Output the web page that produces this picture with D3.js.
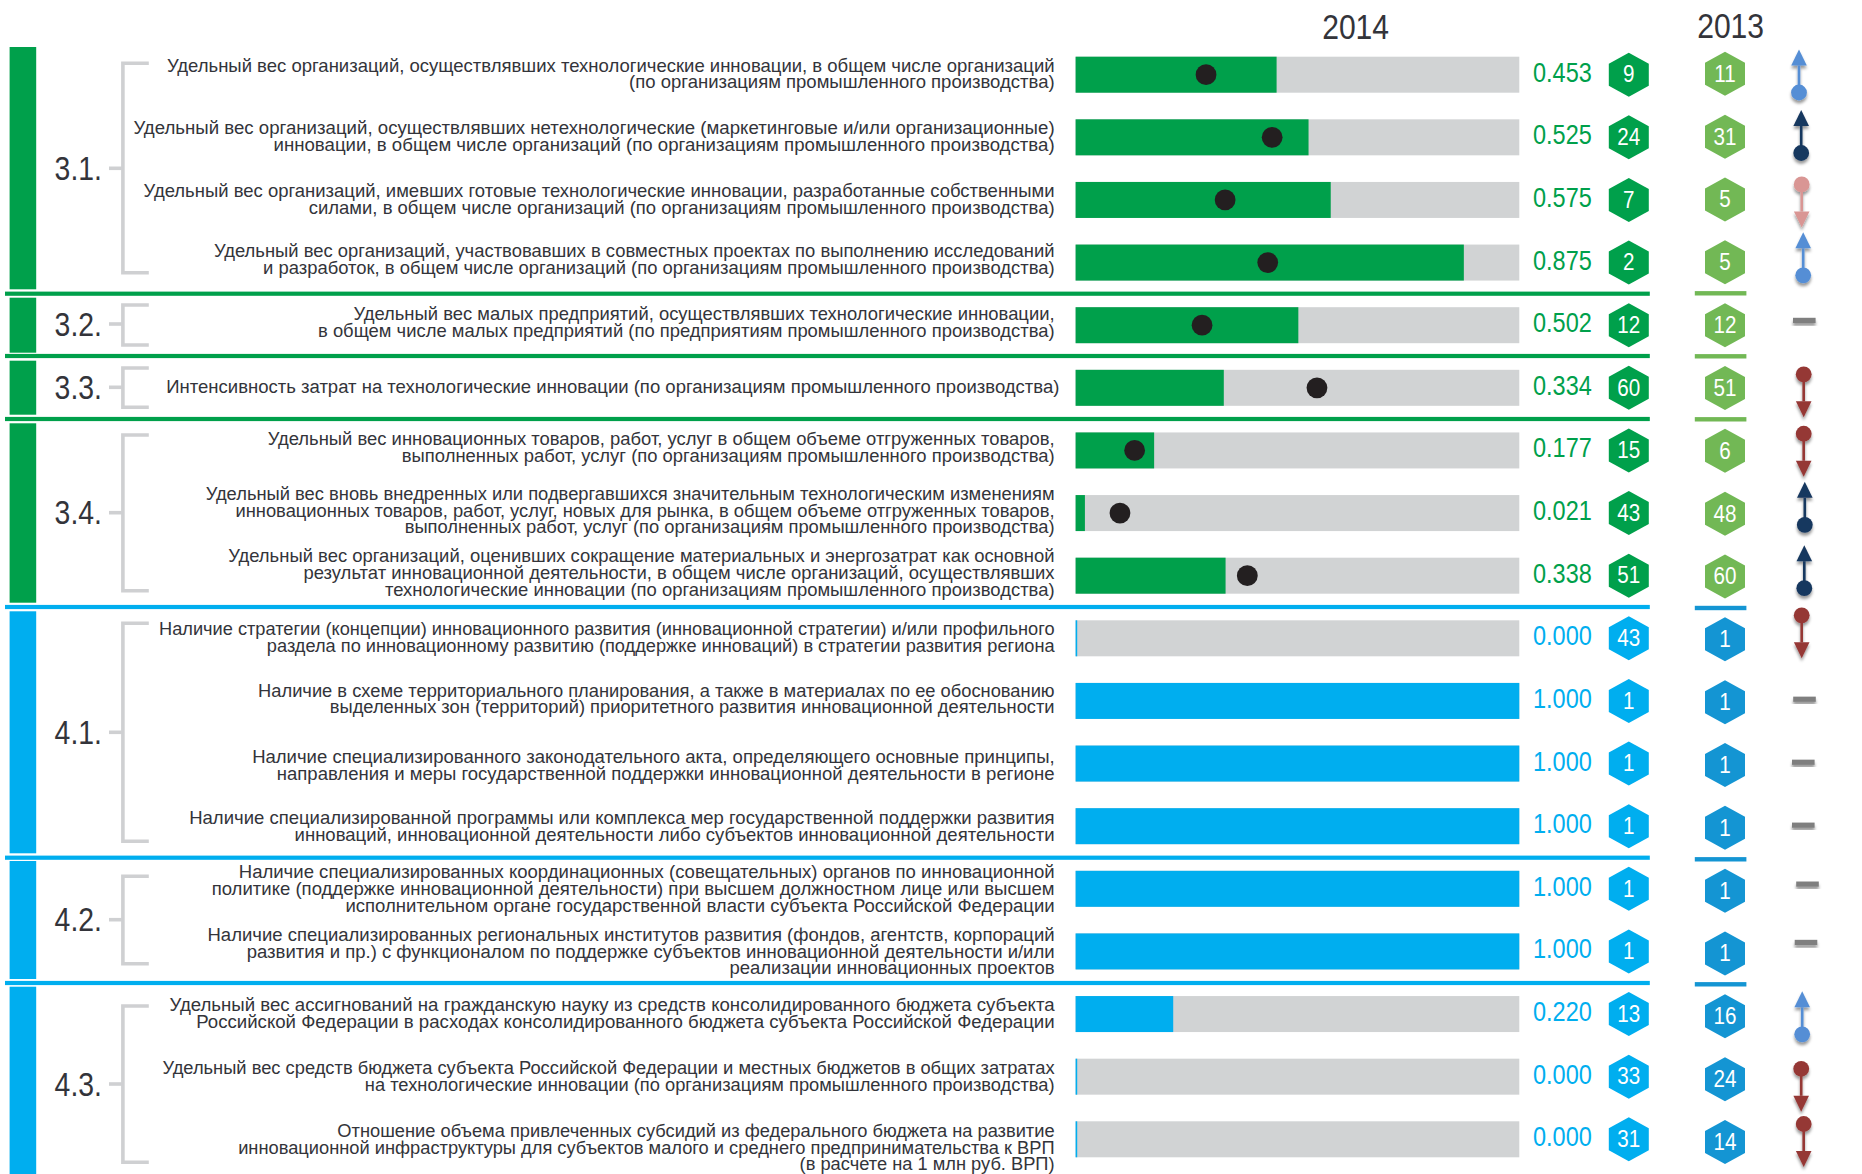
<!DOCTYPE html>
<html lang="ru"><head><meta charset="utf-8">
<script src="https://cdn.jsdelivr.net/npm/d3@7"></script>
<style>html,body{margin:0;padding:0;background:#fff}svg{display:block}</style>
</head><body><svg id="c" width="1862" height="1174"></svg>
<script>
// ---- data ----
const rowLabels = [
 ["Удельный вес организаций, осуществлявших технологические инновации, в общем числе организаций","(по организациям промышленного производства)"],
 ["Удельный вес организаций, осуществлявших нетехнологические (маркетинговые и/или организационные)","инновации, в общем числе организаций (по организациям промышленного производства)"],
 ["Удельный вес организаций, имевших готовые технологические инновации, разработанные собственными","силами, в общем числе организаций (по организациям промышленного производства)"],
 ["Удельный вес организаций, участвовавших в совместных проектах по выполнению исследований","и разработок, в общем числе организаций (по организациям промышленного производства)"],
 ["Удельный вес малых предприятий, осуществлявших технологические инновации,","в общем числе малых предприятий (по предприятиям промышленного производства)"],
 ["Интенсивность затрат на технологические инновации (по организациям промышленного производства)"],
 ["Удельный вес инновационных товаров, работ, услуг в общем объеме отгруженных товаров,","выполненных работ, услуг (по организациям промышленного производства)"],
 ["Удельный вес вновь внедренных или подвергавшихся значительным технологическим изменениям","инновационных товаров, работ, услуг, новых для рынка, в общем объеме отгруженных товаров,","выполненных работ, услуг (по организациям промышленного производства)"],
 ["Удельный вес организаций, оценивших сокращение материальных и энергозатрат как основной","результат инновационной деятельности, в общем числе организаций, осуществлявших","технологические инновации (по организациям промышленного производства)"],
 ["Наличие стратегии (концепции) инновационного развития (инновационной стратегии) и/или профильного","раздела по инновационному развитию (поддержке инноваций) в стратегии развития региона"],
 ["Наличие в схеме территориального планирования, а также в материалах по ее обоснованию","выделенных зон (территорий) приоритетного развития инновационной деятельности"],
 ["Наличие специализированного законодательного акта, определяющего основные принципы,","направления и меры государственной поддержки инновационной деятельности в регионе"],
 ["Наличие специализированной программы или комплекса мер государственной поддержки развития","инноваций, инновационной деятельности либо субъектов инновационной деятельности"],
 ["Наличие специализированных координационных (совещательных) органов по инновационной","политике (поддержке инновационной деятельности) при высшем должностном лице или высшем","исполнительном органе государственной власти субъекта Российской Федерации"],
 ["Наличие специализированных региональных институтов развития (фондов, агентств, корпораций","развития и пр.) с функционалом по поддержке субъектов инновационной деятельности и/или","реализации инновационных проектов"],
 ["Удельный вес ассигнований на гражданскую науку из средств консолидированного бюджета субъекта","Российской Федерации в расходах консолидированного бюджета субъекта Российской Федерации"],
 ["Удельный вес средств бюджета субъекта Российской Федерации и местных бюджетов в общих затратах","на технологические инновации (по организациям промышленного производства)"],
 ["Отношение объема привлеченных субсидий из федерального бюджета на развитие","инновационной инфраструктуры для субъектов малого и среднего предпринимательства к ВРП","(в расчете на 1 млн руб. ВРП)"]
];
const values2014 = [0.453,0.525,0.575,0.875,0.502,0.334,0.177,0.021,0.338,0.000,1.000,1.000,1.000,1.000,1.000,0.220,0.000,0.000];
const benchmark  = [0.294,0.443,0.337,0.433,0.285,0.544,0.133,0.100,0.387,null,null,null,null,null,null,null,null,null];
const rank2014   = [9,24,7,2,12,60,15,43,51,43,1,1,1,1,1,13,33,31];
const rank2013   = [11,31,5,5,12,51,6,48,60,1,1,1,1,1,1,16,24,14];
const trend      = ["upLight","upDark","downPink","upLight","flat","downRed","downRed","upDark","upDark","downRed","flat","flat","flat","flat","flat","upLight","downRed","downRed"];
const sectionNames = ["3.1.","3.2.","3.3.","3.4.","4.1.","4.2.","4.3."];
const sectionFirstRow = [0,4,5,6,9,13,15];
const sectionLastRow  = [3,4,5,8,12,14,17];
const years = ["2014","2013"];

// ---- layout (not data) ----
const W = 1862, H = 1174;
const FONT = "'Liberation Sans',sans-serif";
const GREEN="#00a04b", BLUE="#00aeef", LGREEN="#72b855", DBLUE="#1495d3", GREY="#d1d3d4", INK="#33343a", BR="#cfd0d2";
const sectionBar   = [[47,289.3],[297.7,352.7],[360.7,414.7],[423.3,602.7],[611.3,853.3],[861,979],[986.7,1174]];
const bracket      = [[63.3,272.7],[305,345],[368,407.3],[435,590.7],[623.3,841.3],[876.3,963.7],[1006,1162.3]];
const bracketTick  = [168.3,324,387.3,512.7,732.3,919.7,1084];
const sepMain      = [293.7,356,419,607,857.7,983];
const sep2013      = [293.3,356.3,419.3,608,859.3,984.3];
const labelDy  = [5.3,5.2,5.3,3.1,3.3,4.8,2.8,3.5,3.4,5,4.1,7.8,6.5,6.1,6.2,5.3,5.8,14.2];
const labelFit = [1,1.008,0.999,0.996,0.995,1.001,0.9955,0.992,0.997,0.984,0.99,1.0015,1,1.003,1.001,1.007,0.99,0.9885];
const trendDy  = [-3.7,-5.8,6,-8.7,-4.8,8,4.8,-9.7,-9,-1.5,-1.7,-1.3,-1,-4.7,-9,-1.2,13.6,6.2];
const trendX   = [1799,1801.2,1801.7,1803.2,1804.3,1803.7,1803.7,1804.8,1804.3,1801.7,1804.5,1803.3,1803.3,1807.5,1806,1802.2,1801.2,1803.7];
const trendColor = d3.scaleOrdinal(["upLight","upDark","downPink","downRed","flat"],["#558ed5","#17375e","#d99694","#953735","#7f7f7f"]);

const svg = d3.select("#c");
const defs = svg.append("defs");
const f = defs.append("filter").attr("id","sh").attr("x","-60%").attr("y","-30%").attr("width","220%").attr("height","170%");
f.append("feDropShadow").attr("dx",0).attr("dy",3).attr("stdDeviation",1.8).attr("flood-color","#000").attr("flood-opacity",.4);

const x  = d3.scaleLinear().domain([0,1]).range([1075.6,1519.3]);
const y  = d3.scaleLinear().domain([0,17]).range([74.7,1139.3]);
const y13= d3.scaleLinear().domain([0,17]).range([73.8,1142]);
const isGreen = i => i < 9;
const barH = 36;

// helper: horizontally condensed text
function put(g,txt,px,py,size,sx,anchor,fill){
  return g.append("text").text(txt).attr("transform",`translate(${px},${py}) scale(${sx},1)`)
   .attr("font-family",FONT).attr("font-size",size).attr("text-anchor",anchor).attr("fill",fill);
}

// section bars, brackets, labels
sectionNames.forEach((n,k)=>{
  const col = isGreen(sectionFirstRow[k]) ? GREEN : BLUE;
  svg.append("rect").attr("x",9.6).attr("width",26.6).attr("y",sectionBar[k][0]).attr("height",sectionBar[k][1]-sectionBar[k][0]).attr("fill",col);
  svg.append("path").attr("d",d3.line()([[148.8,bracket[k][0]],[122.9,bracket[k][0]],[122.9,bracket[k][1]],[148.8,bracket[k][1]]]))
    .attr("fill","none").attr("stroke",BR).attr("stroke-width",3.6);
  svg.append("line").attr("x1",109).attr("x2",122.9).attr("y1",bracketTick[k]).attr("y2",bracketTick[k]).attr("stroke",BR).attr("stroke-width",3.6);
  put(svg,n,54.6,bracketTick[k]+11.5,33,0.86,"start",INK);
});

// separators
sepMain.forEach((s,k)=>{
  svg.append("rect").attr("x",5).attr("width",1644.8).attr("y",s-2.1).attr("height",4.2).attr("fill",k<3?GREEN:BLUE);
  svg.append("rect").attr("x",1694.8).attr("width",51.6).attr("y",sep2013[k]-2.2).attr("height",4.4).attr("fill",k<3?LGREEN:DBLUE);
});

// headers
put(svg,years[0],1355.6,39,35,0.86,"middle",INK);
put(svg,years[1],1730.6,37.7,35,0.86,"middle",INK);

// rows
const hex = (cx,cy)=>d3.line().curve(d3.curveLinearClosed)([[cx,cy-22],[cx+20,cy-11],[cx+20,cy+11],[cx,cy+22],[cx-20,cy+11],[cx-20,cy-11]]);
rowLabels.forEach((lines,i)=>{
  const cy = y(i), n = lines.length, col = isGreen(i)?GREEN:BLUE;
  const right = i===5 ? 1059.4 : 1054.6;
  lines.forEach((t,j)=>{
    put(svg,t,right,cy+labelDy[i]+(j-(n-1)/2)*16.7,18.5,labelFit[i],"end",INK);
  });
  svg.append("rect").attr("x",x(0)).attr("width",x(1)-x(0)).attr("y",cy-barH/2).attr("height",barH).attr("fill",GREY);
  svg.append("rect").attr("x",x(0)).attr("width",Math.max(x(values2014[i])-x(0),1.6)).attr("y",cy-barH/2).attr("height",barH).attr("fill",col);
  if(benchmark[i]!==null) svg.append("circle").attr("cx",x(benchmark[i])).attr("cy",cy).attr("r",10.4).attr("fill","#231f20");
  put(svg,values2014[i].toFixed(3),1533,cy+7,27,0.87,"start",col);
  svg.append("path").attr("d",hex(1628.8,cy)).attr("fill",col);
  put(svg,String(rank2014[i]),1628.8,cy+7.7,24,0.86,"middle","#fff");
  svg.append("path").attr("d",hex(1725,y13(i))).attr("fill",isGreen(i)?LGREEN:DBLUE);
  put(svg,String(rank2013[i]),1725,y13(i)+8,24,0.86,"middle","#fff");
  // trend marker
  const k = trend[i], tc = trendColor(k), tx = trendX[i], ty = cy+trendDy[i];
  const g = svg.append("g").attr("filter","url(#sh)");
  if(k==="flat"){
    g.append("rect").attr("x",tx-11.3).attr("width",22.6).attr("y",ty-2.6).attr("height",5.2).attr("fill",tc);
  } else {
    const up = k.startsWith("up"), d = up?-1:1;
    const tip = ty+d*21.5, base = tip-d*16, dot = ty-d*21.5;
    g.append("line").attr("x1",tx).attr("x2",tx).attr("y1",dot).attr("y2",base).attr("stroke",tc).attr("stroke-width",2.6);
    g.append("path").attr("d",d3.line().curve(d3.curveLinearClosed)([[tx,tip],[tx+7.8,base],[tx-7.8,base]])).attr("fill",tc);
    g.append("circle").attr("cx",tx).attr("cy",dot).attr("r",7.9).attr("fill",tc);
  }
});
</script></body></html>
